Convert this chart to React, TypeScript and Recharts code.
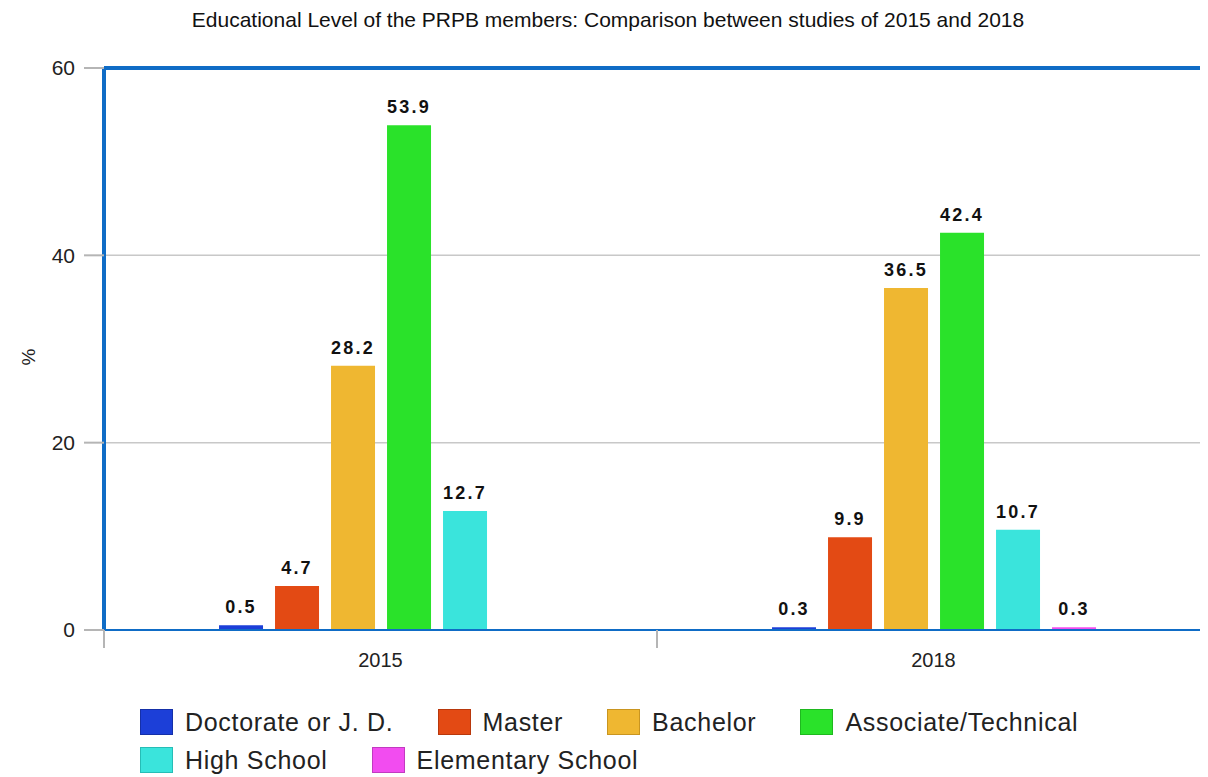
import React from "react";
import {
  BarChart,
  Bar,
  XAxis,
  YAxis,
  CartesianGrid,
  ReferenceLine,
  LabelList,
} from "recharts";

// study years
const years = ["2015", "2018"];

// percentage of members per educational level
const doctorate = [0.5, 0.3];
const master = [4.7, 9.9];
const bachelor = [28.2, 36.5];
const associate = [53.9, 42.4];
const highSchool = [12.7, 10.7];
const elementary = [0, 0.3];

const yTicks = [0, 20, 40, 60];

const series = [
  { key: "doctorate", name: "Doctorate or J. D.", values: doctorate, color: "#1c3fd8", border: "#1530a8" },
  { key: "master", name: "Master", values: master, color: "#e34a14", border: "#b8380c" },
  { key: "bachelor", name: "Bachelor", values: bachelor, color: "#efb731", border: "#c99520" },
  { key: "associate", name: "Associate/Technical", values: associate, color: "#2ae22a", border: "#1fb81f" },
  { key: "highSchool", name: "High School", values: highSchool, color: "#3ae4dc", border: "#26bdb6" },
  { key: "elementary", name: "Elementary School", values: elementary, color: "#f24cf0", border: "#c23ac0" },
];

const data = years.map((year, i) => {
  const row: Record<string, string | number> = { year };
  series.forEach((s) => {
    row[s.key] = s.values[i];
  });
  return row;
});

const CHART_W = 1210;
const CHART_H = 680;
const MARGIN = { top: 60, right: 8, bottom: 18, left: 0 };
const Y_W = 96;
const BAND = (CHART_W - MARGIN.left - MARGIN.right - Y_W) / years.length;
const BLUE = "#0f6cc6";
const FONT = "'Liberation Sans', Arial, sans-serif";

// year label centred in its band, tick mark on the band's left edge
const YearTick = (props: any) => {
  const { x, y, payload } = props;
  const left = x - BAND / 2;
  return (
    <g>
      <line x1={left} y1={y} x2={left} y2={y + 18} stroke="#b5b5b5" strokeWidth={2} />
      <text x={x} y={y + 37} textAnchor="middle" fontSize={20} fill="#222" fontFamily={FONT}>
        {payload.value}
      </text>
    </g>
  );
};

// rotated "%" beside the value axis
const PercentLabel = (props: any) => {
  const { viewBox } = props;
  const x = 20;
  const y = viewBox.y + viewBox.height / 2 + 8;
  return (
    <text
      x={x}
      y={y}
      transform={`rotate(-90 ${x} ${y})`}
      textAnchor="middle"
      dominantBaseline="central"
      fontSize={19}
      fill="#222"
      fontFamily={FONT}
    >
      %
    </text>
  );
};

const LegendRow = ({ items }: { items: typeof series }) => (
  <div style={{ display: "flex", alignItems: "center", height: 38 }}>
    {items.map((s) => (
      <div key={s.key} style={{ display: "flex", alignItems: "center", marginRight: 44 }}>
        <span
          style={{
            width: 31,
            height: 24,
            background: s.color,
            border: `1px solid ${s.border}`,
            marginRight: 12,
          }}
        />
        <span style={{ fontSize: 25, letterSpacing: 0.7, color: "#222", fontFamily: FONT }}>
          {s.name}
        </span>
      </div>
    ))}
  </div>
);

export default function App() {
  return (
    <div style={{ position: "relative", width: 1200, height: 769, overflow: "hidden", background: "#fff" }}>
      <div
        style={{
          position: "absolute",
          top: 0,
          left: 0,
          width: 1200,
          textAlign: "center",
          fontSize: 21,
          lineHeight: "24px",
          color: "#111",
          fontFamily: FONT,
        }}
      >
        Educational Level of the PRPB members: Comparison between studies of 2015 and 2018
      </div>

      <div style={{ position: "absolute", top: 0, left: 0 }}>
        <BarChart
          width={CHART_W}
          height={CHART_H}
          data={data}
          margin={MARGIN}
          barCategoryGap="20.8%"
          barGap={12}
        >
          <CartesianGrid vertical={false} stroke="#c8c8c8" strokeWidth={1.5} />
          <XAxis
            dataKey="year"
            height={40}
            tickLine={false}
            tickSize={0}
            tickMargin={0}
            tick={<YearTick />}
            axisLine={{ stroke: BLUE, strokeWidth: 2 }}
            interval={0}
          />
          <YAxis
            width={Y_W}
            domain={[0, 60]}
            ticks={yTicks}
            tickSize={20}
            tickMargin={9}
            tickLine={{ stroke: "#b5b5b5", strokeWidth: 2 }}
            axisLine={{ stroke: BLUE, strokeWidth: 4 }}
            tick={{ fontSize: 21, fill: "#222", fontFamily: FONT }}
            label={<PercentLabel />}
          />
          <ReferenceLine y={60} stroke={BLUE} strokeWidth={4} />
          {series.map((s) => (
            <Bar key={s.key} dataKey={s.key} name={s.name} fill={s.color} isAnimationActive={false}>
              <LabelList
                dataKey={s.key}
                position="top"
                offset={12}
                style={{ fontSize: 18, fontWeight: "bold", letterSpacing: 2.2, fill: "#111", fontFamily: FONT }}
              />
            </Bar>
          ))}
        </BarChart>
      </div>

      <div style={{ position: "absolute", top: 695, left: 132 }}>
        <LegendRow items={series.slice(0, 4)} />
        <LegendRow items={series.slice(4)} />
      </div>
    </div>
  );
}
